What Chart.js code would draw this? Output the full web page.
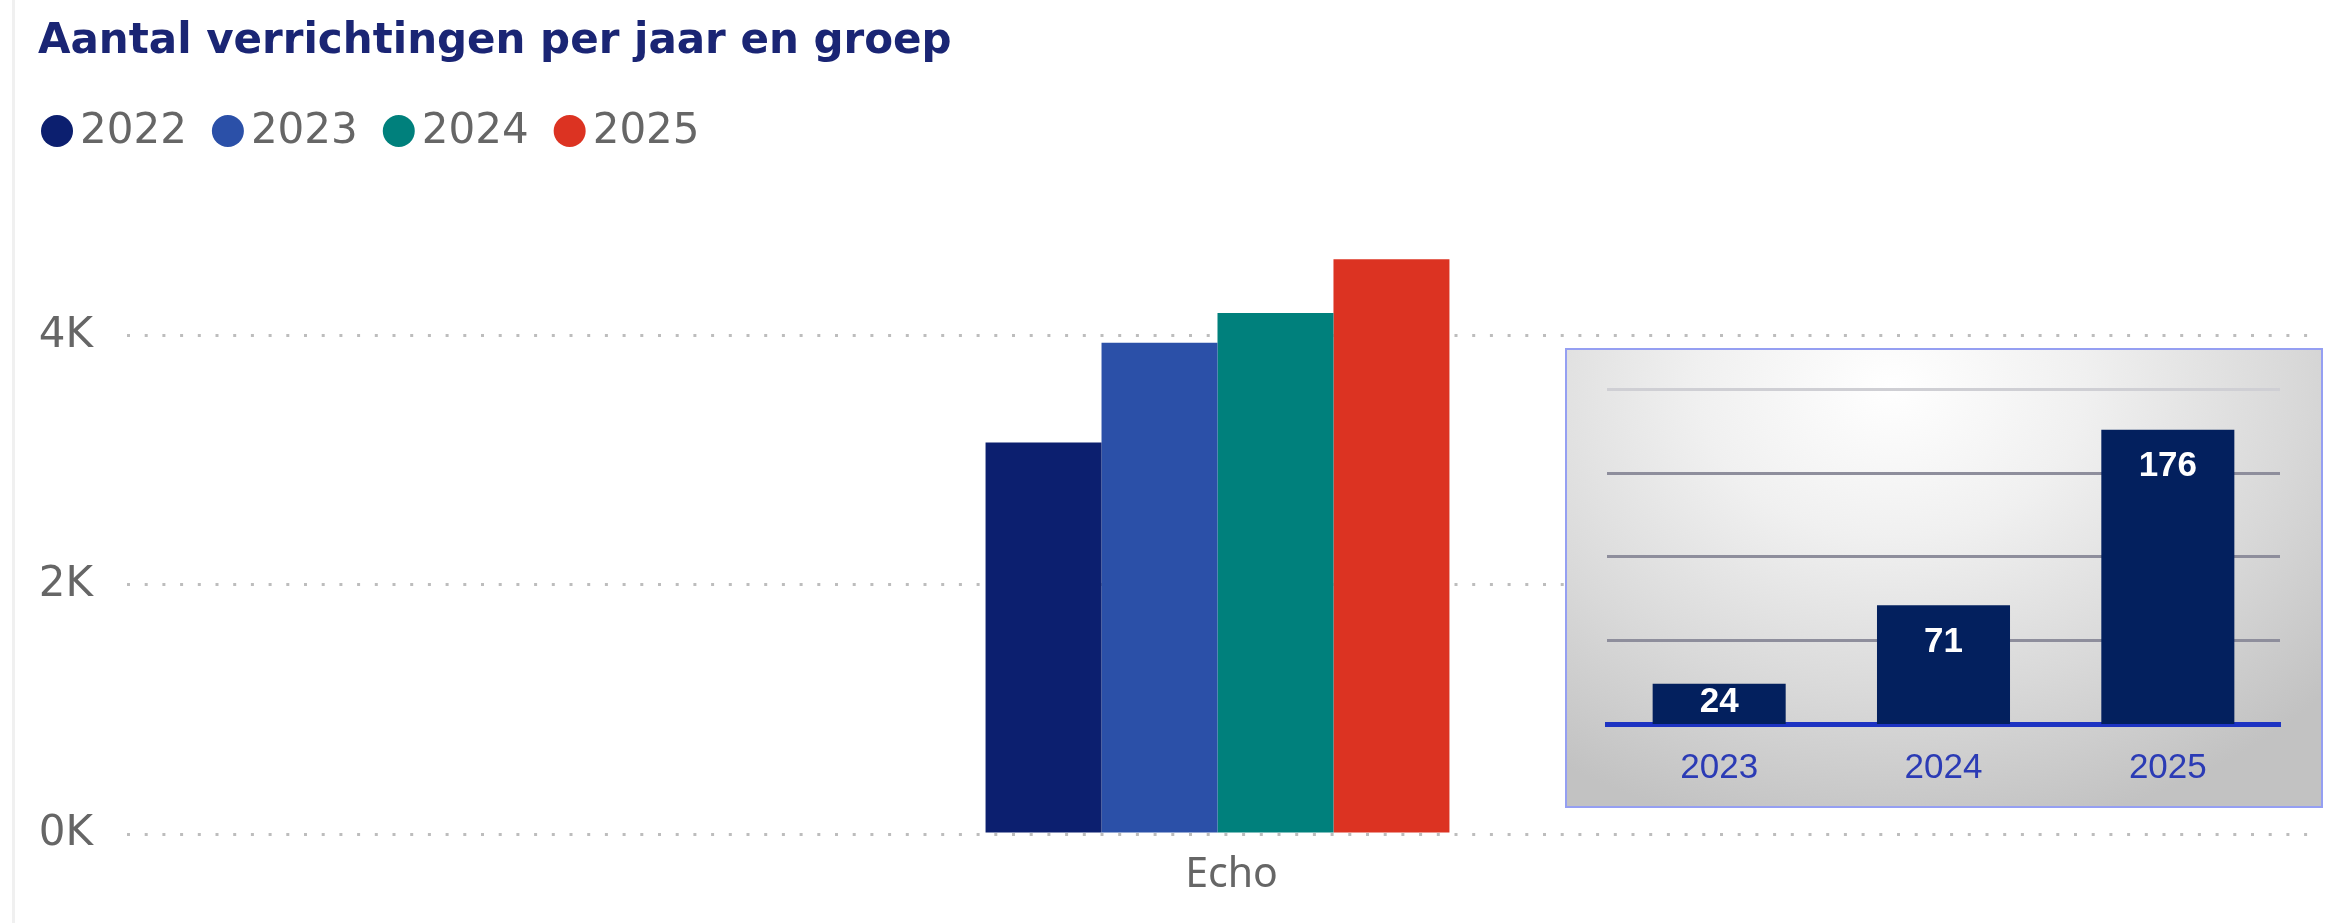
<!DOCTYPE html>
<html>
<head>
<meta charset="utf-8">
<script src="https://cdn.jsdelivr.net/npm/chart.js@4.4.1/dist/chart.umd.min.js"></script>
<style>
  html, body { margin: 0; padding: 0; background: #ffffff; }
  #wrap { position: relative; width: 2331px; height: 923px; overflow: hidden; background: #ffffff; }
  #edge { position: absolute; left: 12px; top: 0; width: 3px; height: 923px; background: #f0f0f0; }
  #main { position: absolute; left: 0; top: 0; }
  #inset {
    position: absolute; left: 1565px; top: 348px; width: 758px; height: 460px;
    box-sizing: border-box; border: 2px solid #959ff2;
    background: radial-gradient(ellipse 78% 100% at 43% 8%, #ffffff 0%, #f0f0f0 33%, #d9d9d9 68%, #c2c2c2 100%);
  }
  #insetCanvas { display: block; }
</style>
</head>
<body>
<div id="wrap">
  <div id="edge"></div>
  <canvas id="main" width="2331" height="923"></canvas>
  <div id="inset"><canvas id="insetCanvas" width="754" height="456"></canvas></div>
</div>
<script>
// ---- main chart data ----
const categories = ['Echo'];
const years = ['2022', '2023', '2024', '2025'];
const values2022 = [3145];
const values2023 = [3945];
const values2024 = [4185];
const values2025 = [4615];
const yTickValues = [0, 2000, 4000];
const yTickLabels = ['0K', '2K', '4K'];

// ---- inset chart data ----
const insetYears = ['2023', '2024', '2025'];
const insetValues = [24, 71, 176];
const insetGridValues = [50, 100, 150, 200];

const seriesValues = [values2022, values2023, values2024, values2025];
const seriesColors = ['#0c1f6f', '#2b50a8', '#00807c', '#dc3322'];

const legendPlugin = {
  id: 'yearLegend',
  afterDraw(chart) {
    const ctx = chart.ctx;
    ctx.save();
    ctx.font = '42px "DejaVu Sans"';
    ctx.textBaseline = 'middle';
    ctx.textAlign = 'left';
    let cx = 57;
    const cy = 131;
    chart.data.datasets.forEach(ds => {
      ctx.fillStyle = ds.backgroundColor;
      ctx.beginPath();
      ctx.arc(cx, cy, 16, 0, Math.PI * 2);
      ctx.fill();
      ctx.fillStyle = '#666666';
      ctx.fillText(ds.label, cx + 23, cy + 1);
      const w = ctx.measureText(ds.label).width;
      cx += 23 + w + 41;
    });
    ctx.restore();
  }
};

new Chart(document.getElementById('main'), {
  type: 'bar',
  data: {
    labels: categories,
    datasets: years.map((y, i) => ({
      label: y,
      data: seriesValues[i],
      backgroundColor: seriesColors[i],
      borderWidth: 0,
      categoryPercentage: 0.2127,
      barPercentage: 1
    }))
  },
  options: {
    responsive: false,
    animation: false,
    devicePixelRatio: 1,
    layout: { padding: { left: 38, right: 23, top: 0, bottom: 0 } },
    plugins: {
      legend: { display: false },
      tooltip: { enabled: false },
      title: {
        display: true,
        text: 'Aantal verrichtingen per jaar en groep',
        align: 'start',
        color: '#1a2574',
        font: { family: 'DejaVu Sans', weight: 'bold', size: 42, lineHeight: 1.2 },
        padding: { top: 17, bottom: 144 }
      }
    },
    scales: {
      x: {
        grid: { display: false, drawTicks: false },
        border: { display: false },
        ticks: { color: '#666666', font: { family: 'Noto Sans', size: 41 }, padding: 17, labelOffset: 14 },
        afterFit(s) { s.height = 89; }
      },
      y: {
        min: 0,
        max: 5000,
        afterBuildTicks(s) { s.ticks = yTickValues.map(v => ({ value: v })); },
        ticks: {
          color: '#666666',
          font: { family: 'DejaVu Sans', size: 42 },
          padding: 34,
          callback: (v) => { const i = yTickValues.indexOf(v); return i >= 0 ? yTickLabels[i] : ''; }
        },
        grid: { color: '#bdbdbd', lineWidth: 3, drawTicks: false },
        border: { display: false, dash: [3, 14.7] },
        afterFit(s) { s.width = 89; }
      }
    }
  },
  plugins: [legendPlugin]
});

const insetLabels = {
  id: 'insetLabels',
  afterDatasetsDraw(chart) {
    const ctx = chart.ctx;
    const meta = chart.getDatasetMeta(0);
    ctx.save();
    ctx.font = 'bold 35px "Liberation Sans"';
    ctx.fillStyle = '#ffffff';
    ctx.textAlign = 'center';
    ctx.textBaseline = 'middle';
    meta.data.forEach((bar, i) => {
      const top = bar.y, base = bar.base;
      const cy = Math.min(top + 37, (top + base) / 2 - 2);
      ctx.fillText(String(insetValues[i]), bar.x, cy);
    });
    ctx.restore();
  }
};

new Chart(document.getElementById('insetCanvas'), {
  type: 'bar',
  data: {
    labels: insetYears,
    datasets: [{
      data: insetValues,
      backgroundColor: '#03205e',
      borderWidth: 0,
      categoryPercentage: 1,
      barPercentage: 0.593
    }]
  },
  options: {
    responsive: false,
    animation: false,
    devicePixelRatio: 1,
    layout: { padding: { left: 40, right: 41, top: 39.5, bottom: 0 } },
    plugins: { legend: { display: false }, tooltip: { enabled: false }, title: { display: false } },
    scales: {
      x: {
        z: 1,
        grid: { display: false, drawTicks: false },
        border: { display: true, color: '#1d33c2', width: 5 },
        ticks: { color: '#2b3bb5', font: { family: 'Liberation Sans', size: 35 }, padding: 23 },
        afterFit(s) { s.height = 82; }
      },
      y: {
        min: 0,
        max: 200,
        afterBuildTicks(s) { s.ticks = insetGridValues.map(v => ({ value: v })); },
        ticks: { display: false },
        grid: {
          color: (c) => (c.tick && c.tick.value === 200) ? '#cfcfd4' : '#8e8e9c',
          lineWidth: 3,
          drawTicks: false
        },
        border: { display: false },
        afterFit(s) { s.width = 0; }
      }
    }
  },
  plugins: [insetLabels]
});
</script>
</body>
</html>
